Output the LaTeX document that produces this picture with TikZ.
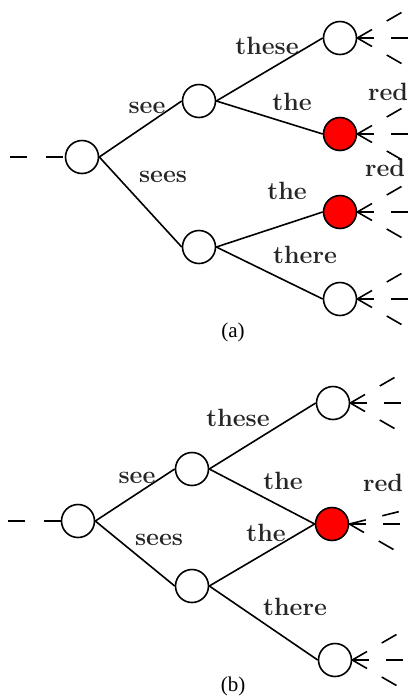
\documentclass[tikz,border=0pt]{standalone}
\usepackage{fontspec}
\newfontfamily\capfont{Liberation Serif}
\usepackage{tikz}
\begin{document}
\begin{tikzpicture}[
    x=1pt, y=-1pt,
    state/.style={circle, draw, line width=1.6pt, minimum size=33pt, inner sep=0pt, fill=white},
    hit/.style={state, fill=red},
    arc/.style={line width=1.6pt},
    stub/.style={line width=1.6pt, dash pattern=on 17pt off 17pt},
    feed/.style={line width=1.6pt, dash pattern=on 17pt off 19pt},
    word/.style={font=\fontsize{25}{29}\selectfont\bfseries, inner sep=0pt, text=black!85},
    caption/.style={font=\capfont\fontsize{21}{24}\selectfont, inner sep=0pt}
]
\useasboundingbox (0,0) rectangle (408,697);

% (a) two paths lead to two separate red states
\node[state] (rootA) at (82,157) {};
\node[state] (seeA) at (199,101) {};
\node[state] (seesA) at (199,247) {};
\node[state] (topA) at (340,38) {};
\node[hit] (redA1) at (340,134) {};
\node[hit] (redA2) at (340,212) {};
\node[state] (botA) at (340,299) {};

\coordinate (inA) at (10,157);
\draw[feed] (inA) -- (rootA.west);
\draw[arc] (rootA.east) -- (seeA.west);
\draw[arc] (rootA.east) -- (seesA.west);
\draw[arc] (seeA.east) -- (topA.west);
\draw[arc] (seeA.east) -- (redA1.west);
\draw[arc] (seesA.east) -- (redA2.west);
\draw[arc] (seesA.east) -- (botA.west);

\node[word] (wSeeA) at (147,108) {see};
\node[word] (wSeesA) at (163,177) {sees};
\node[word] (wTheseA) at (267,46) {these};
\node[word] (wTheA1) at (292,102) {the};
\node[word] (wTheA2) at (287,191) {the};
\node[word] (wThereA) at (305,255) {there};
\node[word] (wRedA1) at (388,92) {red};
\node[word] (wRedA2) at (385,168) {red};
\node[caption] (capA) at (233,332) {(a)};

% (b) both paths merge into one red state
\node[state] (rootB) at (78,521) {};
\node[state] (seeB) at (192,469) {};
\node[state] (seesB) at (192,586) {};
\node[state] (topB) at (333,403) {};
\node[hit] (redB) at (332,524) {};
\node[state] (botB) at (335,660) {};

\coordinate (inB) at (8,521);
\draw[feed] (inB) -- (rootB.west);
\draw[arc] (rootB.east) -- (seeB.west);
\draw[arc] (rootB.east) -- (seesB.west);
\draw[arc] (seeB.east) -- (topB.west);
\draw[arc] (seeB.east) -- (redB.west);
\draw[arc] (seesB.east) -- (redB.west);
\draw[arc] (seesB.east) -- (botB.west);

\node[word] (wSeeB) at (137,478) {see};
\node[word] (wSeesB) at (159,540) {sees};
\node[word] (wTheseB) at (238,418) {these};
\node[word] (wTheB1) at (283,481) {the};
\node[word] (wTheB2) at (266,533) {the};
\node[word] (wThereB) at (295,607) {there};
\node[word] (wRedB) at (383,483) {red};
\node[caption] (capB) at (233,686) {(b)};

% continuations leaving the leaves
\foreach \leaf in {topA,redA1,redA2,botA,topB,botB}
  \foreach \ang in {-30,0,30} {
    \path (\leaf.east) ++(\ang:52) coordinate (\leaf-out\ang);
    \draw[stub] (\leaf.east) -- (\leaf-out\ang);
  }
\foreach \ang in {-14,0,30} {
  \path (redB.east) ++(\ang:52) coordinate (redB-out\ang);
  \draw[stub] (redB.east) -- (redB-out\ang);
}
\end{tikzpicture}
\end{document}
